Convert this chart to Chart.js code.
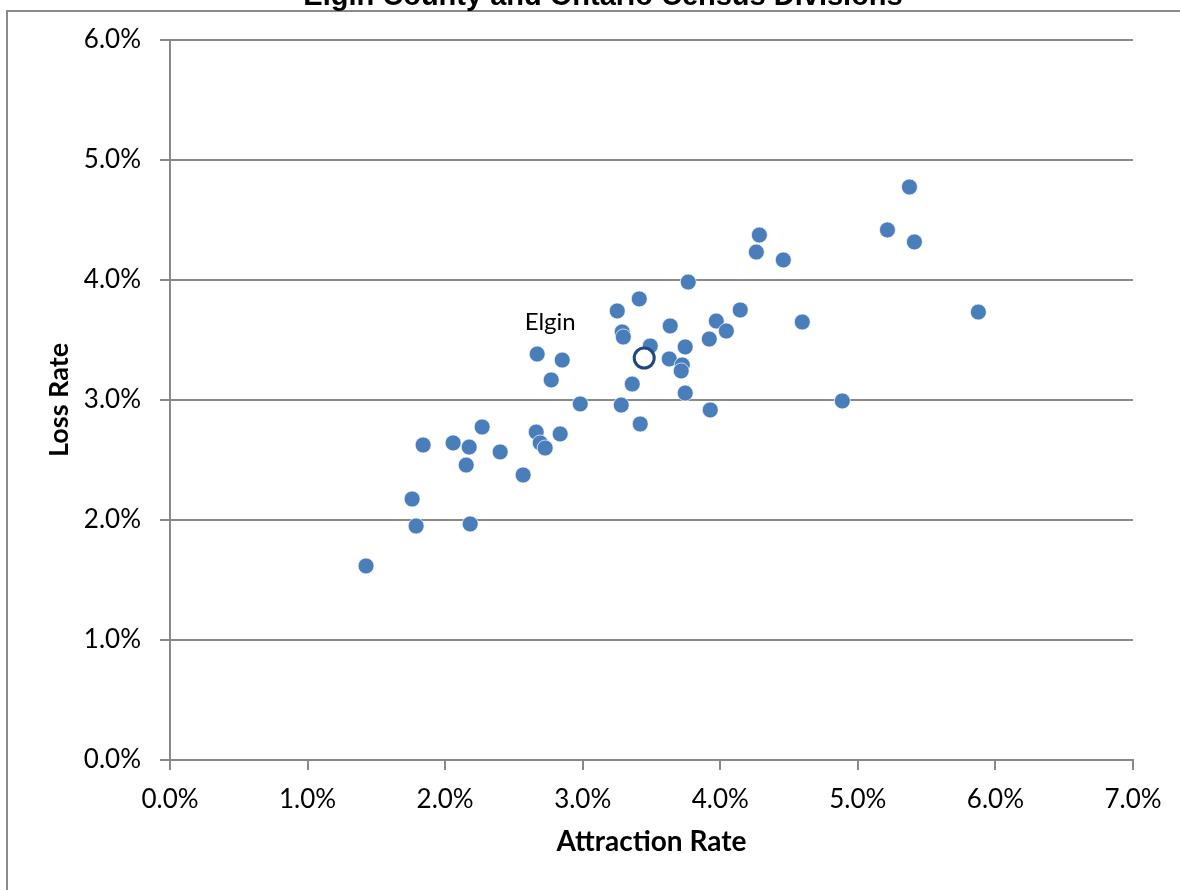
<!DOCTYPE html>
<html>
<head>
<meta charset="utf-8">
<script src="https://cdn.jsdelivr.net/npm/chart.js@4/dist/chart.umd.min.js"></script>
<style>
  html, body { margin: 0; padding: 0; background: #fff; }
  canvas { display: block; }
</style>
</head>
<body>
<canvas id="chart" width="1180" height="890"></canvas>
<script>
// census divisions, attraction vs loss rate (%)
const attractionRates = [
  1.425, 1.760, 1.789, 1.840, 2.058, 2.175, 2.153, 2.182, 2.269, 2.400,
  2.567, 2.669, 2.662, 2.691, 2.727, 2.771, 2.851, 2.836, 2.982, 3.251,
  3.287, 3.295, 3.280, 3.360, 3.411, 3.418, 3.491, 3.636, 3.629, 3.724,
  3.716, 3.745, 3.745, 3.767, 3.920, 3.971, 3.927, 4.044, 4.145, 4.262,
  4.284, 4.458, 4.596, 4.887, 5.215, 5.375, 5.411, 5.876
];
const lossRates = [
  1.617, 2.175, 1.950, 2.625, 2.642, 2.608, 2.458, 1.967, 2.775, 2.567,
  2.375, 3.383, 2.733, 2.642, 2.600, 3.167, 3.333, 2.717, 2.967, 3.742,
  3.567, 3.525, 2.958, 3.133, 3.842, 2.800, 3.450, 3.617, 3.342, 3.292,
  3.242, 3.442, 3.058, 3.983, 3.508, 3.658, 2.917, 3.575, 3.750, 4.233,
  4.375, 4.167, 3.650, 2.992, 4.417, 4.775, 4.317, 3.733
];
const elginLabel = "Elgin";
const elginAttraction = 3.447;
const elginLoss = 3.350;

const xTicks = [0, 1, 2, 3, 4, 5, 6, 7];
const yTicks = [0, 1, 2, 3, 4, 5, 6];

const tickFont = { family: "Lato", size: 26 };
const gray = "#898989";

const pct = v => v.toFixed(1) + "%";

const frame = {
  id: "frame",
  beforeDraw(chart) {
    const ctx = chart.ctx;
    ctx.save();
    ctx.fillStyle = "#fff";
    ctx.fillRect(0, 0, chart.width, chart.height);
    ctx.strokeStyle = gray;
    ctx.lineWidth = 2;
    ctx.beginPath();
    ctx.moveTo(7, chart.height);
    ctx.lineTo(7, 11);
    ctx.lineTo(chart.width, 11);
    ctx.stroke();
    ctx.restore();
  },
  afterDraw(chart) {
    const ctx = chart.ctx;
    ctx.save();
    // chart title runs off the top of the picture
    ctx.font = "bold 29px 'Liberation Sans', Arial, sans-serif";
    ctx.fillStyle = "#000";
    ctx.textAlign = "center";
    ctx.textBaseline = "alphabetic";
    ctx.fillText("Elgin County and Ontario Census Divisions", 603, 5);
    ctx.restore();
  }
};

const elginTag = {
  id: "elginTag",
  afterDatasetsDraw(chart) {
    const { ctx, scales } = chart;
    const px = scales.x.getPixelForValue(elginAttraction);
    const py = scales.y.getPixelForValue(elginLoss);
    ctx.save();
    ctx.font = "24px Lato";
    ctx.fillStyle = "#000";
    ctx.textAlign = "center";
    ctx.textBaseline = "middle";
    ctx.fillText(elginLabel, px - 94, py - 36);
    ctx.restore();
  }
};

new Chart(document.getElementById("chart"), {
  type: "scatter",
  data: {
    datasets: [
      {
        label: elginLabel,
        data: [{ x: elginAttraction, y: elginLoss }],
        pointRadius: 10,
        pointBorderWidth: 3,
        pointBackgroundColor: "#fff",
        pointBorderColor: "#1f497d"
      },
      {
        label: "Census Divisions",
        data: attractionRates.map((x, i) => ({ x, y: lossRates[i] })),
        pointRadius: 8,
        pointBorderWidth: 1,
        pointBackgroundColor: "#4a7ebb",
        pointBorderColor: "rgba(255,255,255,0.7)"
      }
    ]
  },
  options: {
    responsive: false,
    animation: false,
    layout: { padding: { left: 0, top: 40, right: 47, bottom: 0 } },
    plugins: {
      legend: { display: false },
      tooltip: { enabled: false }
    },
    scales: {
      x: {
        type: "linear",
        min: 0,
        max: 7,
        afterFit: s => { s.height = 130; },
        afterBuildTicks: s => { s.ticks = xTicks.map(value => ({ value })); },
        grid: { drawOnChartArea: false, color: gray, lineWidth: 2, tickLength: 10 },
        border: { color: gray, width: 2 },
        ticks: { font: tickFont, color: "#000", padding: 14, callback: pct, maxRotation: 0 },
        title: { display: true, text: "Attraction Rate", font: { family: "Lato", size: 28, weight: "bold" }, color: "#000", padding: { bottom: 31 } }
      },
      y: {
        type: "linear",
        min: 0,
        max: 6,
        afterFit: s => { s.width = 170; },
        afterBuildTicks: s => { s.ticks = yTicks.map(value => ({ value })); },
        grid: { color: gray, lineWidth: 2, tickLength: 10 },
        border: { color: gray, width: 2 },
        ticks: { font: tickFont, color: "#000", padding: 19, callback: pct },
        title: { display: true, text: "Loss Rate", font: { family: "Lato", size: 27, weight: "bold" }, color: "#000", padding: { top: 43 } }
      }
    }
  },
  plugins: [frame, elginTag]
});
</script>
</body>
</html>
